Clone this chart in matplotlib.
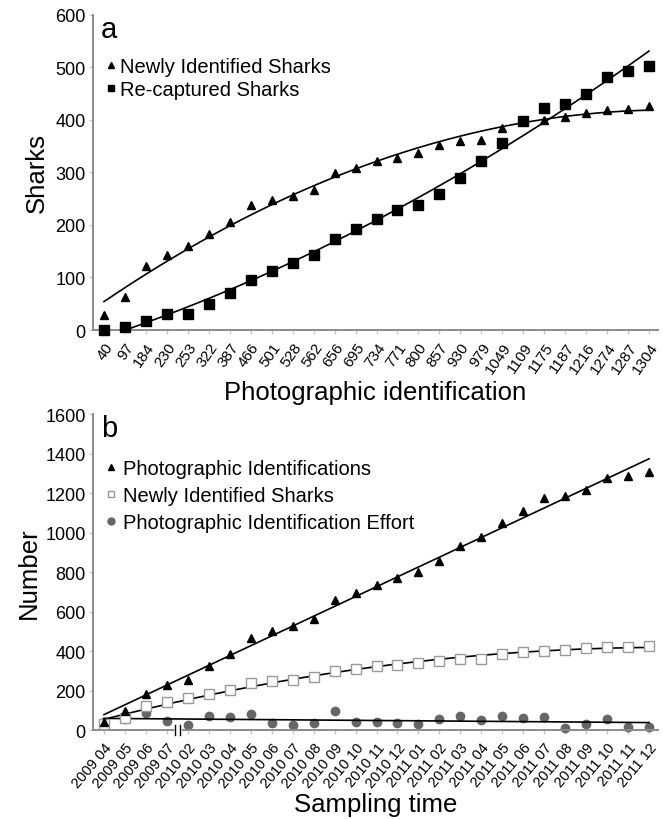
import numpy as np
import matplotlib.pyplot as plt
from matplotlib.lines import Line2D

plt.rcParams['font.family'] = ['Liberation Sans', 'DejaVu Sans']

# panel a: cumulative photographic identifications (category labels)
photo_ids = [40, 97, 184, 230, 253, 322, 387, 466, 501, 528, 562, 656, 695, 734,
             771, 800, 857, 930, 979, 1049, 1109, 1175, 1187, 1216, 1274, 1287, 1304]
newly_identified = [28, 63, 122, 143, 160, 183, 205, 238, 247, 255, 267, 298, 308, 322,
                    328, 337, 352, 360, 362, 385, 397, 400, 406, 413, 418, 420, 426]
recaptured = [0, 5, 17, 30, 30, 50, 70, 95, 113, 127, 143, 173, 193, 211,
              228, 238, 258, 289, 322, 355, 397, 422, 430, 448, 482, 493, 502]

# panel b: sampling months
months = ['2009 04', '2009 05', '2009 06', '2009 07', '2010 02', '2010 03', '2010 04',
          '2010 05', '2010 06', '2010 07', '2010 08', '2010 09', '2010 10', '2010 11',
          '2010 12', '2011 01', '2011 02', '2011 03', '2011 04', '2011 05', '2011 06',
          '2011 07', '2011 08', '2011 09', '2011 10', '2011 11', '2011 12']
effort = [40, 57, 87, 46, 23, 69, 65, 79, 35, 27, 34, 94, 39, 39,
          37, 29, 57, 73, 49, 70, 60, 66, 12, 29, 58, 13, 17]

GRAY = '#8a8a8a'


def style_axes(ax):
    for s in ['top', 'right']:
        ax.spines[s].set_visible(False)
    for s in ['left', 'bottom']:
        ax.spines[s].set_color(GRAY)
        ax.spines[s].set_linewidth(1.4)
    ax.tick_params(axis='both', colors='#c8c8c8', length=3, width=1, labelcolor='black')
    ax.tick_params(axis='y', labelsize=13, pad=2)


def trend(x, y, deg):
    coef = np.polyfit(x, y, deg)
    xs = np.linspace(x[0], x[-1], 200)
    return xs, np.polyval(coef, xs)


fig = plt.figure(figsize=(6.63, 8.2), dpi=100)
ax1 = fig.add_axes([0.1398, 0.5963, 0.8527, 0.3847])
ax2 = fig.add_axes([0.1398, 0.1085, 0.8527, 0.3854])

# ---- panel a
idx = np.arange(len(photo_ids))
ax1.plot(idx, newly_identified, '^', color='black', ms=6, clip_on=False, zorder=3)
ax1.plot(idx, recaptured, 's', color='black', ms=6.5, clip_on=False, zorder=3)
xs, ys = trend(idx, newly_identified, 2)
ax1.plot(xs, ys, color='black', lw=1.2)
xs, ys = trend(idx, recaptured, 2)
ax1.plot(xs, ys, color='black', lw=1.2)
ax1.set_xlim(-0.54, 26.43)
ax1.set_ylim(0, 600)
ax1.set_yticks(np.arange(0, 601, 100))
ax1.set_xticks(idx)
ax1.set_xticklabels([str(v) for v in photo_ids], rotation=55, ha='right',
                    rotation_mode='anchor', fontsize=11)
ax1.tick_params(axis='x', pad=4)
style_axes(ax1)
ax1.set_ylabel('Sharks', fontsize=18.5, labelpad=5)
ax1.set_xlabel('Photographic identification', fontsize=18.5, labelpad=3)
ax1.text(0.015, 1.0, 'a', transform=ax1.transAxes, fontsize=21, va='top')
h1 = [Line2D([], [], ls='none', marker='^', color='black', ms=5),
      Line2D([], [], ls='none', marker='s', color='black', ms=5)]
ax1.legend(h1, ['Newly Identified Sharks', 'Re-captured Sharks'], loc='upper left',
           bbox_to_anchor=(0.0, 0.905), frameon=False, fontsize=14.5, handlelength=0.6,
           handletextpad=0.15, labelspacing=0.22, borderaxespad=0.2)

# ---- panel b
idx2 = np.arange(len(months))
ax2.plot(idx2, effort, 'o', color='#666666', ms=6, clip_on=False, zorder=2)
ax2.plot(idx2, newly_identified, 's', mfc='white', mec='#999999', mew=1, ms=6.5,
         clip_on=False, zorder=3)
ax2.plot(idx2, photo_ids, '^', color='black', ms=6, clip_on=False, zorder=4)
xs, ys = trend(idx2, photo_ids, 1)
ax2.plot(xs, ys, color='black', lw=1.2)
xs, ys = trend(idx2, newly_identified, 2)
ax2.plot(xs, ys, color='black', lw=1.2)
xs, ys = trend(idx2, effort, 1)
ax2.plot(xs, ys, color='black', lw=1.2)
ax2.set_xlim(-0.54, 26.43)
ax2.set_ylim(0, 1600)
ax2.set_yticks(np.arange(0, 1601, 200))
ax2.set_xticks(idx2)
ax2.set_xticklabels(months, rotation=50, ha='right', rotation_mode='anchor', fontsize=10.5)
ax2.tick_params(axis='x', pad=4)
style_axes(ax2)
ax2.set_ylabel('Number', fontsize=18.5, labelpad=3)
ax2.set_xlabel('Sampling time', fontsize=18.5, labelpad=2)
ax2.text(0.015, 1.0, 'b', transform=ax2.transAxes, fontsize=21, va='top')

# axis break mark between 2009 07 and 2010 02
for dx in (-0.12, 0.12):
    ax2.plot([3.5 + dx, 3.5 + dx], [-25, 25], color='black', lw=1, clip_on=False, zorder=5)
ax2.plot([3.38, 3.62], [0, 0], color='white', lw=2, clip_on=False, zorder=4)

h2 = [Line2D([], [], ls='none', marker='^', color='black', ms=4.5),
      Line2D([], [], ls='none', marker='s', mfc='white', mec='#999999', ms=5),
      Line2D([], [], ls='none', marker='o', color='#666666', ms=5)]
ax2.legend(h2, ['Photographic Identifications', 'Newly Identified Sharks',
                'Photographic Identification Effort'], loc='upper left',
           bbox_to_anchor=(0.0, 0.895), frameon=False, fontsize=14.5, handlelength=0.6,
           handletextpad=0.3, labelspacing=0.38, borderaxespad=0.2)

fig.savefig('out.png', dpi=100)
